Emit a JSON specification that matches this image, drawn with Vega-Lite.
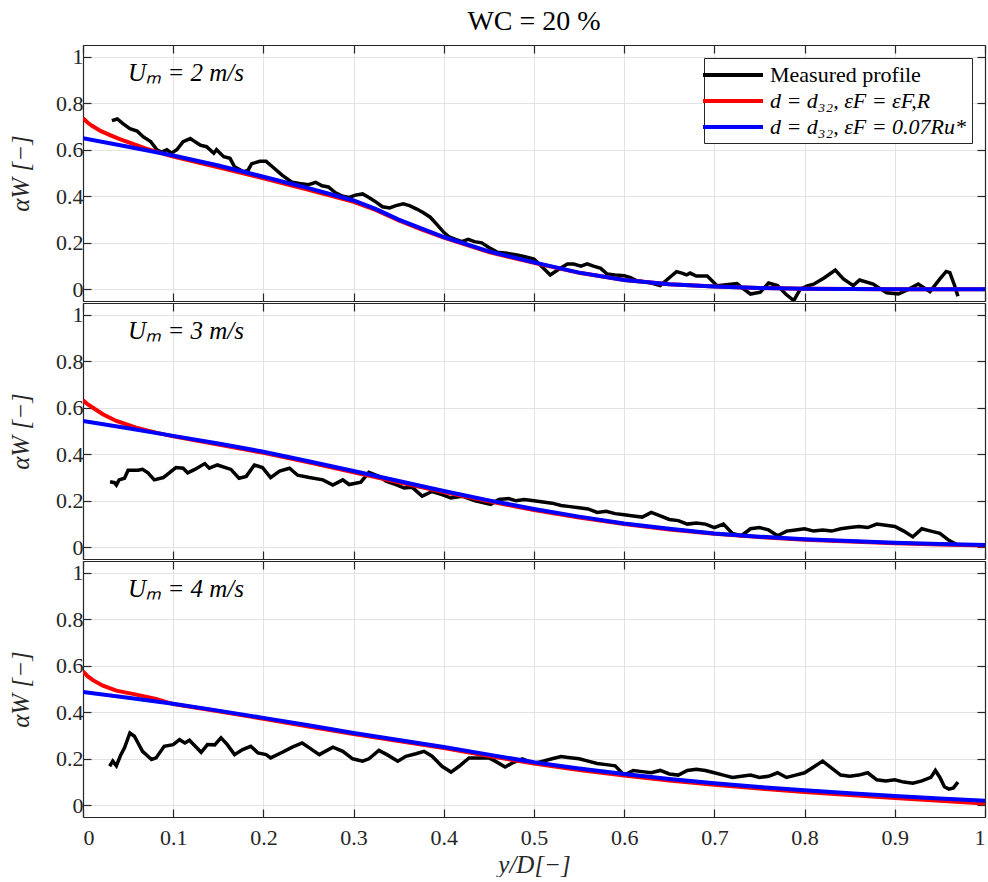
{
  "$schema": "https://vega.github.io/schema/vega-lite/v6.json",
  "padding": {"left": 8, "top": 8, "right": 0, "bottom": 0},
  "background": "white",
  "title": {"text": "WC = 20 %", "fontSize": 28, "font": "Liberation Serif", "fontWeight": "normal", "color": "#000000", "anchor": "middle", "frame": "group", "offset": 8},
  "spacing": 0,
  "datasets": {
    "lab": [
      {"panel": 1, "x": 0.05, "y": 0.93, "label": "Uₘ = 2 m/s"},
      {"panel": 2, "x": 0.05, "y": 0.93, "label": "Uₘ = 3 m/s"},
      {"panel": 3, "x": 0.05, "y": 0.93, "label": "Uₘ = 4 m/s"}
    ],
    "m1": [
      {"x":0.032,"y":0.725},{"x":0.038,"y":0.732},{"x":0.045,"y":0.71},{"x":0.052,"y":0.69},{"x":0.06,"y":0.68},{"x":0.067,"y":0.655},{"x":0.075,"y":0.635},{"x":0.082,"y":0.6},{"x":0.087,"y":0.59},{"x":0.093,"y":0.6},{"x":0.098,"y":0.585},{"x":0.104,"y":0.6},{"x":0.111,"y":0.635},{"x":0.119,"y":0.648},{"x":0.124,"y":0.635},{"x":0.13,"y":0.62},{"x":0.137,"y":0.613},{"x":0.145,"y":0.585},{"x":0.148,"y":0.6},{"x":0.156,"y":0.57},{"x":0.163,"y":0.563},{"x":0.168,"y":0.527},{"x":0.178,"y":0.505},{"x":0.183,"y":0.512},{"x":0.187,"y":0.54},{"x":0.196,"y":0.55},{"x":0.203,"y":0.55},{"x":0.21,"y":0.527},{"x":0.221,"y":0.49},{"x":0.232,"y":0.46},{"x":0.24,"y":0.455},{"x":0.25,"y":0.45},{"x":0.258,"y":0.46},{"x":0.265,"y":0.445},{"x":0.272,"y":0.44},{"x":0.28,"y":0.415},{"x":0.288,"y":0.4},{"x":0.295,"y":0.395},{"x":0.302,"y":0.405},{"x":0.31,"y":0.41},{"x":0.317,"y":0.395},{"x":0.325,"y":0.375},{"x":0.332,"y":0.355},{"x":0.34,"y":0.35},{"x":0.347,"y":0.36},{"x":0.355,"y":0.368},{"x":0.362,"y":0.36},{"x":0.37,"y":0.345},{"x":0.377,"y":0.33},{"x":0.385,"y":0.31},{"x":0.392,"y":0.28},{"x":0.4,"y":0.245},{"x":0.406,"y":0.225},{"x":0.413,"y":0.215},{"x":0.42,"y":0.205},{"x":0.427,"y":0.215},{"x":0.434,"y":0.205},{"x":0.442,"y":0.2},{"x":0.45,"y":0.18},{"x":0.459,"y":0.16},{"x":0.47,"y":0.155},{"x":0.481,"y":0.148},{"x":0.49,"y":0.14},{"x":0.5,"y":0.13},{"x":0.508,"y":0.1},{"x":0.518,"y":0.062},{"x":0.527,"y":0.085},{"x":0.537,"y":0.109},{"x":0.544,"y":0.109},{"x":0.552,"y":0.1},{"x":0.559,"y":0.11},{"x":0.566,"y":0.1},{"x":0.574,"y":0.09},{"x":0.581,"y":0.066},{"x":0.59,"y":0.062},{"x":0.6,"y":0.059},{"x":0.607,"y":0.05},{"x":0.614,"y":0.037},{"x":0.627,"y":0.03},{"x":0.64,"y":0.016},{"x":0.65,"y":0.05},{"x":0.658,"y":0.076},{"x":0.664,"y":0.07},{"x":0.669,"y":0.062},{"x":0.673,"y":0.07},{"x":0.68,"y":0.057},{"x":0.692,"y":0.057},{"x":0.703,"y":0.016},{"x":0.713,"y":0.02},{"x":0.725,"y":0.025},{"x":0.733,"y":0.0},{"x":0.74,"y":-0.02},{"x":0.751,"y":-0.012},{"x":0.76,"y":0.027},{"x":0.77,"y":0.016},{"x":0.779,"y":-0.02},{"x":0.788,"y":-0.048},{"x":0.795,"y":0.0},{"x":0.803,"y":0.015},{"x":0.81,"y":0.022},{"x":0.822,"y":0.05},{"x":0.834,"y":0.083},{"x":0.843,"y":0.045},{"x":0.854,"y":0.016},{"x":0.861,"y":0.04},{"x":0.876,"y":0.023},{"x":0.891,"y":-0.015},{"x":0.904,"y":-0.02},{"x":0.915,"y":0.0},{"x":0.926,"y":0.023},{"x":0.939,"y":-0.01},{"x":0.95,"y":0.045},{"x":0.957,"y":0.077},{"x":0.961,"y":0.072},{"x":0.966,"y":0.02},{"x":0.97,"y":-0.03}
    ],
    "r1": [
      {"x":0,"y":0.735},{"x":0.005,"y":0.717},{"x":0.01,"y":0.703},{"x":0.02,"y":0.68},{"x":0.03,"y":0.663},{"x":0.04,"y":0.647},{"x":0.05,"y":0.633},{"x":0.06,"y":0.619},{"x":0.07,"y":0.605},{"x":0.08,"y":0.593},{"x":0.1,"y":0.571},{"x":0.15,"y":0.525},{"x":0.2,"y":0.477},{"x":0.25,"y":0.428},{"x":0.3,"y":0.376},{"x":0.325,"y":0.34},{"x":0.35,"y":0.296},{"x":0.375,"y":0.258},{"x":0.4,"y":0.222},{"x":0.45,"y":0.16},{"x":0.5,"y":0.114},{"x":0.55,"y":0.071},{"x":0.6,"y":0.04},{"x":0.65,"y":0.022},{"x":0.7,"y":0.012},{"x":0.75,"y":0.006},{"x":0.8,"y":0.003},{"x":0.9,"y":0.001},{"x":1,"y":0}
    ],
    "b1": [
      {"x":0,"y":0.649},{"x":0.05,"y":0.613},{"x":0.1,"y":0.575},{"x":0.15,"y":0.532},{"x":0.2,"y":0.484},{"x":0.25,"y":0.435},{"x":0.3,"y":0.382},{"x":0.325,"y":0.345},{"x":0.35,"y":0.3},{"x":0.375,"y":0.262},{"x":0.4,"y":0.225},{"x":0.45,"y":0.163},{"x":0.5,"y":0.116},{"x":0.55,"y":0.072},{"x":0.6,"y":0.04},{"x":0.65,"y":0.022},{"x":0.7,"y":0.012},{"x":0.75,"y":0.006},{"x":0.8,"y":0.003},{"x":0.85,"y":0.002},{"x":0.9,"y":0.001},{"x":1,"y":0}
    ],
    "m2": [
      {"x":0.03,"y":0.282},{"x":0.035,"y":0.278},{"x":0.037,"y":0.268},{"x":0.04,"y":0.29},{"x":0.046,"y":0.297},{"x":0.05,"y":0.331},{"x":0.061,"y":0.331},{"x":0.066,"y":0.335},{"x":0.072,"y":0.32},{"x":0.079,"y":0.29},{"x":0.089,"y":0.3},{"x":0.103,"y":0.343},{"x":0.111,"y":0.34},{"x":0.116,"y":0.32},{"x":0.124,"y":0.335},{"x":0.135,"y":0.36},{"x":0.14,"y":0.34},{"x":0.149,"y":0.354},{"x":0.164,"y":0.335},{"x":0.173,"y":0.297},{"x":0.181,"y":0.305},{"x":0.19,"y":0.354},{"x":0.199,"y":0.343},{"x":0.208,"y":0.3},{"x":0.218,"y":0.328},{"x":0.229,"y":0.34},{"x":0.238,"y":0.31},{"x":0.251,"y":0.3},{"x":0.266,"y":0.29},{"x":0.277,"y":0.268},{"x":0.288,"y":0.29},{"x":0.295,"y":0.27},{"x":0.308,"y":0.28},{"x":0.317,"y":0.322},{"x":0.328,"y":0.305},{"x":0.336,"y":0.284},{"x":0.347,"y":0.27},{"x":0.356,"y":0.255},{"x":0.365,"y":0.258},{"x":0.376,"y":0.22},{"x":0.387,"y":0.24},{"x":0.398,"y":0.227},{"x":0.408,"y":0.212},{"x":0.42,"y":0.22},{"x":0.435,"y":0.2},{"x":0.452,"y":0.185},{"x":0.461,"y":0.206},{"x":0.472,"y":0.21},{"x":0.48,"y":0.2},{"x":0.489,"y":0.206},{"x":0.5,"y":0.2},{"x":0.51,"y":0.195},{"x":0.52,"y":0.19},{"x":0.53,"y":0.18},{"x":0.54,"y":0.175},{"x":0.55,"y":0.17},{"x":0.56,"y":0.165},{"x":0.57,"y":0.15},{"x":0.58,"y":0.155},{"x":0.59,"y":0.145},{"x":0.6,"y":0.14},{"x":0.61,"y":0.135},{"x":0.62,"y":0.13},{"x":0.63,"y":0.15},{"x":0.64,"y":0.135},{"x":0.65,"y":0.12},{"x":0.66,"y":0.115},{"x":0.67,"y":0.1},{"x":0.68,"y":0.105},{"x":0.69,"y":0.1},{"x":0.7,"y":0.085},{"x":0.71,"y":0.1},{"x":0.72,"y":0.06},{"x":0.73,"y":0.05},{"x":0.74,"y":0.08},{"x":0.75,"y":0.085},{"x":0.76,"y":0.075},{"x":0.77,"y":0.05},{"x":0.78,"y":0.07},{"x":0.79,"y":0.075},{"x":0.8,"y":0.08},{"x":0.81,"y":0.07},{"x":0.82,"y":0.075},{"x":0.83,"y":0.07},{"x":0.84,"y":0.08},{"x":0.85,"y":0.085},{"x":0.86,"y":0.09},{"x":0.87,"y":0.085},{"x":0.88,"y":0.1},{"x":0.89,"y":0.095},{"x":0.9,"y":0.09},{"x":0.91,"y":0.07},{"x":0.92,"y":0.045},{"x":0.93,"y":0.08},{"x":0.94,"y":0.07},{"x":0.95,"y":0.06},{"x":0.96,"y":0.03},{"x":0.965,"y":0.02},{"x":0.97,"y":0.01}
    ],
    "r2": [
      {"x":0,"y":0.632},{"x":0.005,"y":0.615},{"x":0.011,"y":0.6},{"x":0.022,"y":0.572},{"x":0.037,"y":0.543},{"x":0.059,"y":0.514},{"x":0.081,"y":0.493},{"x":0.1,"y":0.477},{"x":0.15,"y":0.442},{"x":0.2,"y":0.406},{"x":0.25,"y":0.365},{"x":0.3,"y":0.323},{"x":0.35,"y":0.28},{"x":0.4,"y":0.238},{"x":0.45,"y":0.198},{"x":0.5,"y":0.16},{"x":0.55,"y":0.128},{"x":0.6,"y":0.1},{"x":0.65,"y":0.077},{"x":0.7,"y":0.058},{"x":0.75,"y":0.044},{"x":0.8,"y":0.033},{"x":0.85,"y":0.025},{"x":0.9,"y":0.018},{"x":0.95,"y":0.012},{"x":1,"y":0.008}
    ],
    "b2": [
      {"x":0,"y":0.543},{"x":0.05,"y":0.512},{"x":0.1,"y":0.479},{"x":0.15,"y":0.446},{"x":0.2,"y":0.411},{"x":0.25,"y":0.37},{"x":0.3,"y":0.328},{"x":0.35,"y":0.285},{"x":0.4,"y":0.242},{"x":0.45,"y":0.202},{"x":0.5,"y":0.165},{"x":0.55,"y":0.132},{"x":0.6,"y":0.103},{"x":0.65,"y":0.08},{"x":0.7,"y":0.06},{"x":0.75,"y":0.046},{"x":0.8,"y":0.035},{"x":0.85,"y":0.027},{"x":0.9,"y":0.02},{"x":0.95,"y":0.014},{"x":1,"y":0.01}
    ],
    "m3": [
      {"x":0.0295,"y":0.168},{"x":0.033,"y":0.19},{"x":0.037,"y":0.17},{"x":0.042,"y":0.218},{"x":0.046,"y":0.247},{"x":0.052,"y":0.311},{"x":0.057,"y":0.297},{"x":0.061,"y":0.268},{"x":0.066,"y":0.232},{"x":0.076,"y":0.197},{"x":0.081,"y":0.204},{"x":0.09,"y":0.254},{"x":0.1,"y":0.261},{"x":0.107,"y":0.282},{"x":0.113,"y":0.268},{"x":0.118,"y":0.28},{"x":0.131,"y":0.228},{"x":0.138,"y":0.261},{"x":0.146,"y":0.26},{"x":0.153,"y":0.29},{"x":0.16,"y":0.261},{"x":0.168,"y":0.218},{"x":0.177,"y":0.24},{"x":0.186,"y":0.254},{"x":0.194,"y":0.225},{"x":0.203,"y":0.218},{"x":0.208,"y":0.204},{"x":0.221,"y":0.228},{"x":0.232,"y":0.25},{"x":0.243,"y":0.268},{"x":0.251,"y":0.247},{"x":0.262,"y":0.218},{"x":0.277,"y":0.25},{"x":0.288,"y":0.232},{"x":0.299,"y":0.2},{"x":0.31,"y":0.19},{"x":0.317,"y":0.2},{"x":0.328,"y":0.236},{"x":0.337,"y":0.218},{"x":0.349,"y":0.19},{"x":0.358,"y":0.211},{"x":0.369,"y":0.222},{"x":0.378,"y":0.232},{"x":0.387,"y":0.211},{"x":0.398,"y":0.168},{"x":0.408,"y":0.143},{"x":0.417,"y":0.168},{"x":0.428,"y":0.204},{"x":0.439,"y":0.204},{"x":0.45,"y":0.204},{"x":0.457,"y":0.19},{"x":0.468,"y":0.165},{"x":0.476,"y":0.182},{"x":0.487,"y":0.2},{"x":0.5,"y":0.18},{"x":0.51,"y":0.19},{"x":0.52,"y":0.2},{"x":0.53,"y":0.21},{"x":0.54,"y":0.205},{"x":0.55,"y":0.2},{"x":0.56,"y":0.19},{"x":0.57,"y":0.18},{"x":0.58,"y":0.175},{"x":0.59,"y":0.17},{"x":0.6,"y":0.13},{"x":0.61,"y":0.15},{"x":0.62,"y":0.145},{"x":0.63,"y":0.14},{"x":0.64,"y":0.15},{"x":0.65,"y":0.135},{"x":0.66,"y":0.13},{"x":0.67,"y":0.15},{"x":0.68,"y":0.155},{"x":0.69,"y":0.15},{"x":0.7,"y":0.14},{"x":0.71,"y":0.13},{"x":0.72,"y":0.12},{"x":0.73,"y":0.125},{"x":0.74,"y":0.13},{"x":0.75,"y":0.12},{"x":0.76,"y":0.125},{"x":0.77,"y":0.14},{"x":0.78,"y":0.12},{"x":0.79,"y":0.13},{"x":0.8,"y":0.14},{"x":0.81,"y":0.165},{"x":0.82,"y":0.19},{"x":0.83,"y":0.16},{"x":0.84,"y":0.13},{"x":0.85,"y":0.125},{"x":0.86,"y":0.13},{"x":0.87,"y":0.14},{"x":0.88,"y":0.11},{"x":0.89,"y":0.105},{"x":0.9,"y":0.11},{"x":0.91,"y":0.1},{"x":0.92,"y":0.095},{"x":0.93,"y":0.105},{"x":0.94,"y":0.12},{"x":0.945,"y":0.15},{"x":0.95,"y":0.12},{"x":0.955,"y":0.08},{"x":0.96,"y":0.07},{"x":0.965,"y":0.075},{"x":0.97,"y":0.1}
    ],
    "r3": [
      {"x":0,"y":0.576},{"x":0.005,"y":0.555},{"x":0.011,"y":0.538},{"x":0.022,"y":0.514},{"x":0.037,"y":0.493},{"x":0.059,"y":0.476},{"x":0.081,"y":0.457},{"x":0.1,"y":0.435},{"x":0.15,"y":0.404},{"x":0.2,"y":0.372},{"x":0.25,"y":0.339},{"x":0.3,"y":0.306},{"x":0.35,"y":0.276},{"x":0.4,"y":0.246},{"x":0.45,"y":0.212},{"x":0.5,"y":0.18},{"x":0.55,"y":0.152},{"x":0.6,"y":0.128},{"x":0.65,"y":0.107},{"x":0.7,"y":0.088},{"x":0.75,"y":0.072},{"x":0.8,"y":0.057},{"x":0.85,"y":0.044},{"x":0.9,"y":0.032},{"x":0.95,"y":0.02},{"x":1,"y":0.008}
    ],
    "b3": [
      {"x":0,"y":0.487},{"x":0.05,"y":0.462},{"x":0.1,"y":0.437},{"x":0.15,"y":0.407},{"x":0.2,"y":0.376},{"x":0.25,"y":0.344},{"x":0.3,"y":0.311},{"x":0.35,"y":0.281},{"x":0.4,"y":0.251},{"x":0.45,"y":0.218},{"x":0.5,"y":0.185},{"x":0.55,"y":0.158},{"x":0.6,"y":0.135},{"x":0.65,"y":0.113},{"x":0.7,"y":0.095},{"x":0.75,"y":0.079},{"x":0.8,"y":0.065},{"x":0.85,"y":0.052},{"x":0.9,"y":0.04},{"x":0.95,"y":0.03},{"x":1,"y":0.02}
    ]
  },
  "vconcat": [
    {
      "width": 902, "height": 256,
      "layer": [
        {"data": {"name": "m1"}, "mark": {"type": "line", "strokeWidth": 3.5, "clip": true},
         "encoding": {
           "x": {"field": "x", "type": "quantitative", "scale": {"domain": [0, 1], "nice": false, "zero": false}, "axis": {"orient": "bottom", "values": [0,0.1,0.2,0.3,0.4,0.5,0.6,0.7,0.8,0.9,1], "labels": false, "title": null, "grid": true}},
           "y": {"field": "y", "type": "quantitative", "scale": {"domain": [-0.05, 1.05], "nice": false, "zero": false}, "axis": {"orient": "left", "values": [0,0.2,0.4,0.6,0.8,1], "format": "~g", "title": "αW [−]", "grid": true}},
           "color": {"datum": "Measured profile", "type": "nominal",
             "scale": {"domain": ["Measured profile", "d = d₃₂, εF = εF,R", "d = d₃₂, εF = 0.07Ru*"], "range": ["#000000", "#ff0000", "#0000ff"]},
             "legend": {"orient": "top-right", "offset": 13, "title": null, "symbolType": "M-3,0H3", "symbolSize": 400, "symbolStrokeWidth": 4, "symbolOffset": 12, "labelOffset": 25, "labelFont": "Liberation Serif", "labelFontSize": 22, "labelColor": "#000000", "labelLimit": 340, "strokeColor": "#262626", "fillColor": "#ffffff", "padding": 5, "rowPadding": 3,
               "encode": {"labels": {"update": {"fontStyle": {"signal": "datum.label == 'Measured profile' ? 'normal' : 'italic'"}}}}}}
         }},
        {"data": {"name": "r1"}, "mark": {"type": "line", "strokeWidth": 4, "clip": true},
         "encoding": {
           "x": {"field": "x", "type": "quantitative", "scale": {"domain": [0, 1], "nice": false, "zero": false}, "axis": null},
           "y": {"field": "y", "type": "quantitative", "scale": {"domain": [-0.05, 1.05], "nice": false, "zero": false}, "axis": null},
           "color": {"datum": "d = d₃₂, εF = εF,R", "type": "nominal"}
         }},
        {"data": {"name": "b1"}, "mark": {"type": "line", "strokeWidth": 4, "clip": true},
         "encoding": {
           "x": {"field": "x", "type": "quantitative", "scale": {"domain": [0, 1], "nice": false, "zero": false}, "axis": null},
           "y": {"field": "y", "type": "quantitative", "scale": {"domain": [-0.05, 1.05], "nice": false, "zero": false}, "axis": null},
           "color": {"datum": "d = d₃₂, εF = 0.07Ru*", "type": "nominal"}
         }},
        {"data": {"name": "lab"}, "transform": [{"filter": "datum.panel == 1"}],
         "mark": {"type": "text", "align": "left", "baseline": "middle", "font": "Liberation Serif", "fontSize": 25, "fontStyle": "italic", "color": "#000000"},
         "encoding": {
           "x": {"field": "x", "type": "quantitative", "scale": {"domain": [0, 1], "nice": false, "zero": false}, "axis": {"orient": "top", "values": [0,0.1,0.2,0.3,0.4,0.5,0.6,0.7,0.8,0.9,1], "labels": false, "title": null, "grid": false}},
           "y": {"field": "y", "type": "quantitative", "scale": {"domain": [-0.05, 1.05], "nice": false, "zero": false}, "axis": {"orient": "right", "values": [0,0.2,0.4,0.6,0.8,1], "labels": false, "title": null, "grid": false}},
           "text": {"field": "label"}
         }}
      ],
      "resolve": {"axis": {"x": "independent", "y": "independent"}}
    },
    {
      "width": 902, "height": 256,
      "layer": [
        {"data": {"name": "m2"}, "mark": {"type": "line", "strokeWidth": 3.5, "clip": true},
         "encoding": {
           "x": {"field": "x", "type": "quantitative", "scale": {"domain": [0, 1], "nice": false, "zero": false}, "axis": {"orient": "bottom", "values": [0,0.1,0.2,0.3,0.4,0.5,0.6,0.7,0.8,0.9,1], "labels": false, "title": null, "grid": true}},
           "y": {"field": "y", "type": "quantitative", "scale": {"domain": [-0.05, 1.05], "nice": false, "zero": false}, "axis": {"orient": "left", "values": [0,0.2,0.4,0.6,0.8,1], "format": "~g", "title": "αW [−]", "grid": true}},
           "color": {"datum": "Measured profile", "type": "nominal",
             "scale": {"domain": ["Measured profile", "d = d₃₂, εF = εF,R", "d = d₃₂, εF = 0.07Ru*"], "range": ["#000000", "#ff0000", "#0000ff"]}, "legend": null}
         }},
        {"data": {"name": "r2"}, "mark": {"type": "line", "strokeWidth": 4, "clip": true},
         "encoding": {
           "x": {"field": "x", "type": "quantitative", "scale": {"domain": [0, 1], "nice": false, "zero": false}, "axis": null},
           "y": {"field": "y", "type": "quantitative", "scale": {"domain": [-0.05, 1.05], "nice": false, "zero": false}, "axis": null},
           "color": {"datum": "d = d₃₂, εF = εF,R", "type": "nominal", "legend": null}
         }},
        {"data": {"name": "b2"}, "mark": {"type": "line", "strokeWidth": 4, "clip": true},
         "encoding": {
           "x": {"field": "x", "type": "quantitative", "scale": {"domain": [0, 1], "nice": false, "zero": false}, "axis": null},
           "y": {"field": "y", "type": "quantitative", "scale": {"domain": [-0.05, 1.05], "nice": false, "zero": false}, "axis": null},
           "color": {"datum": "d = d₃₂, εF = 0.07Ru*", "type": "nominal", "legend": null}
         }},
        {"data": {"name": "lab"}, "transform": [{"filter": "datum.panel == 2"}],
         "mark": {"type": "text", "align": "left", "baseline": "middle", "font": "Liberation Serif", "fontSize": 25, "fontStyle": "italic", "color": "#000000"},
         "encoding": {
           "x": {"field": "x", "type": "quantitative", "scale": {"domain": [0, 1], "nice": false, "zero": false}, "axis": {"orient": "top", "values": [0,0.1,0.2,0.3,0.4,0.5,0.6,0.7,0.8,0.9,1], "labels": false, "title": null, "grid": false}},
           "y": {"field": "y", "type": "quantitative", "scale": {"domain": [-0.05, 1.05], "nice": false, "zero": false}, "axis": {"orient": "right", "values": [0,0.2,0.4,0.6,0.8,1], "labels": false, "title": null, "grid": false}},
           "text": {"field": "label"}
         }}
      ],
      "resolve": {"axis": {"x": "independent", "y": "independent"}}
    },
    {
      "width": 902, "height": 256,
      "layer": [
        {"data": {"name": "m3"}, "mark": {"type": "line", "strokeWidth": 3.5, "clip": true},
         "encoding": {
           "x": {"field": "x", "type": "quantitative", "scale": {"domain": [0, 1], "nice": false, "zero": false}, "axis": {"orient": "bottom", "values": [0,0.1,0.2,0.3,0.4,0.5,0.6,0.7,0.8,0.9,1], "format": "~g", "title": "y/D[−]", "grid": true}},
           "y": {"field": "y", "type": "quantitative", "scale": {"domain": [-0.05, 1.05], "nice": false, "zero": false}, "axis": {"orient": "left", "values": [0,0.2,0.4,0.6,0.8,1], "format": "~g", "title": "αW [−]", "grid": true}},
           "color": {"datum": "Measured profile", "type": "nominal",
             "scale": {"domain": ["Measured profile", "d = d₃₂, εF = εF,R", "d = d₃₂, εF = 0.07Ru*"], "range": ["#000000", "#ff0000", "#0000ff"]}, "legend": null}
         }},
        {"data": {"name": "r3"}, "mark": {"type": "line", "strokeWidth": 4, "clip": true},
         "encoding": {
           "x": {"field": "x", "type": "quantitative", "scale": {"domain": [0, 1], "nice": false, "zero": false}, "axis": null},
           "y": {"field": "y", "type": "quantitative", "scale": {"domain": [-0.05, 1.05], "nice": false, "zero": false}, "axis": null},
           "color": {"datum": "d = d₃₂, εF = εF,R", "type": "nominal", "legend": null}
         }},
        {"data": {"name": "b3"}, "mark": {"type": "line", "strokeWidth": 4, "clip": true},
         "encoding": {
           "x": {"field": "x", "type": "quantitative", "scale": {"domain": [0, 1], "nice": false, "zero": false}, "axis": null},
           "y": {"field": "y", "type": "quantitative", "scale": {"domain": [-0.05, 1.05], "nice": false, "zero": false}, "axis": null},
           "color": {"datum": "d = d₃₂, εF = 0.07Ru*", "type": "nominal", "legend": null}
         }},
        {"data": {"name": "lab"}, "transform": [{"filter": "datum.panel == 3"}],
         "mark": {"type": "text", "align": "left", "baseline": "middle", "font": "Liberation Serif", "fontSize": 25, "fontStyle": "italic", "color": "#000000"},
         "encoding": {
           "x": {"field": "x", "type": "quantitative", "scale": {"domain": [0, 1], "nice": false, "zero": false}, "axis": {"orient": "top", "values": [0,0.1,0.2,0.3,0.4,0.5,0.6,0.7,0.8,0.9,1], "labels": false, "title": null, "grid": false}},
           "y": {"field": "y", "type": "quantitative", "scale": {"domain": [-0.05, 1.05], "nice": false, "zero": false}, "axis": {"orient": "right", "values": [0,0.2,0.4,0.6,0.8,1], "labels": false, "title": null, "grid": false}},
           "text": {"field": "label"}
         }}
      ],
      "resolve": {"axis": {"x": "independent", "y": "independent"}}
    }
  ],
  "resolve": {"scale": {"color": "independent"}, "legend": {"color": "independent"}},
  "config": {
    "view": {"stroke": null},
    "axis": {
      "labelFont": "Liberation Serif", "labelFontSize": 22, "labelColor": "#262626",
      "titleFont": "Liberation Serif", "titleFontSize": 25, "titleColor": "#262626", "titleFontWeight": "normal", "titleFontStyle": "italic",
      "domainColor": "#262626", "domainWidth": 1.2, "tickColor": "#262626", "tickWidth": 1.2, "tickSize": -8,
      "labelPadding": 8, "gridColor": "#e3e3e3", "gridWidth": 1
    },
    "axisY": {"minExtent": 40, "maxExtent": 40, "titlePadding": 10},
    "axisX": {"titlePadding": 4, "labelPadding": 18}
  }
}
